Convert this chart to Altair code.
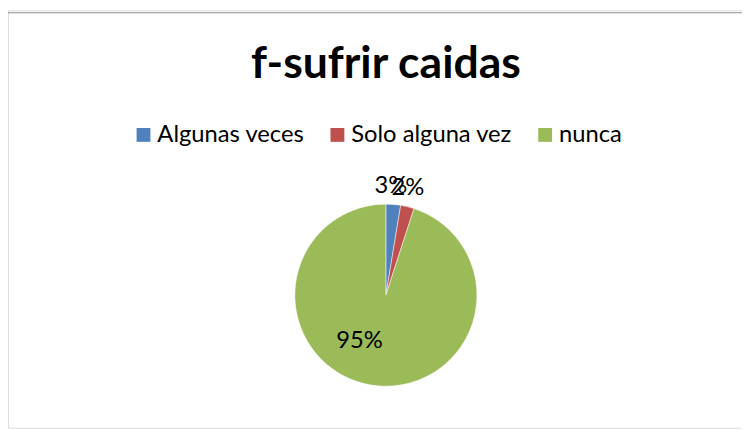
import altair as alt
import pandas as pd

categories = ["Algunas veces", "Solo alguna vez", "nunca"]
values = [2.6, 2.4, 95.0]
labels = ["3%", "2%", "95%"]
colors = ["#4F81BD", "#C0504D", "#9BBB59"]
title_text = "f-sufrir caidas"

df = pd.DataFrame({
    "categoria": categories,
    "valor": values,
    "etiqueta": labels,
    "orden": list(range(len(categories))),
})

FONT = "Lato"
CX, CY, R = 382, 288, 92

base = alt.Chart(df).encode(
    theta=alt.Theta("valor:Q", stack=True),
    order=alt.Order("orden:Q"),
)

pie = base.mark_arc(radius=R, stroke="white", strokeWidth=0.5).encode(
    x=alt.value(CX), y=alt.value(CY),
    color=alt.Color(
        "categoria:N",
        scale=alt.Scale(domain=categories, range=colors),
        sort=categories,
        legend=alt.Legend(
            title=None, orient="none", direction="horizontal",
            legendX=125, legendY=114,
            symbolType="square", symbolSize=196, symbolStrokeWidth=0,
            labelFont=FONT, labelFontSize=24, labelColor="black",
            labelLimit=400, labelOffset=2, columnPadding=21, symbolOpacity=1,
        ),
    ),
)

outer = base.transform_filter(alt.datum.orden < 2).mark_text(
    radius=111, font=FONT, fontSize=24, color="black", dx=-4
).encode(x=alt.value(CX), y=alt.value(CY), text="etiqueta:N")

inner = base.transform_filter(alt.datum.orden == 2).mark_text(
    radius=53, font=FONT, fontSize=24, color="black", dx=-35, dy=-6
).encode(x=alt.value(CX), y=alt.value(CY), text="etiqueta:N")

title = alt.Chart(pd.DataFrame({"t": [title_text]})).mark_text(
    font=FONT, fontSize=45, fontWeight="bold", color="black",
    baseline="alphabetic", align="center"
).encode(x=alt.value(382), y=alt.value(68), text="t:N")

frame = pd.DataFrame({"a": [0]})
left_line = alt.Chart(frame).mark_rule(color="#8c8c8c", strokeWidth=1).encode(
    x=alt.value(-0.5), y=alt.value(2.5), y2=alt.value(422)
)
top_line = alt.Chart(frame).mark_rule(color="#8c8c8c", strokeWidth=1).encode(
    x=alt.value(-0.5), x2=alt.value(742), y=alt.value(2.5)
)

chart = alt.layer(left_line, top_line, pie, outer, inner, title).properties(
    width=742, height=422, padding=0,
    autosize=alt.AutoSizeParams(type="none"),
).configure_view(stroke=None).configure(background="white")

chart.save("out.html", embed_options={"renderer": "svg", "actions": False})
